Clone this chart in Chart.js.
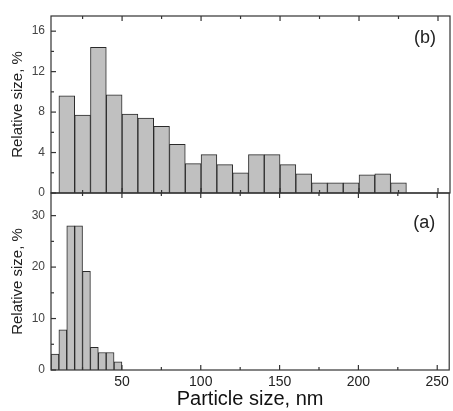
<!DOCTYPE html>
<html>
<head>
<meta charset="utf-8">
<script src="https://cdn.jsdelivr.net/npm/chart.js@4.4.0/dist/chart.umd.min.js"></script>
<style>
  html, body { margin: 0; padding: 0; background: #fff; }
  #wrap { position: relative; width: 453px; height: 411px; }
  #wrap canvas { position: absolute; left: 0; top: 0; }
</style>
</head>
<body>
<div id="wrap">
  <canvas id="chartB" width="453" height="411"></canvas>
  <canvas id="chartA" width="453" height="411"></canvas>
</div>
<script>
// panel (b): 10 nm bins from 10 to 230 nm (bin centres)
const binsB = [15, 25, 35, 45, 55, 65, 75, 85, 95, 105, 115, 125, 135, 145, 155, 165, 175, 185, 195, 205, 215, 225];
const valuesB = [9.6, 7.7, 14.4, 9.7, 7.8, 7.4, 6.6, 4.8, 2.9, 3.8, 2.8, 2.0, 3.8, 3.8, 2.8, 1.9, 1.0, 1.0, 1.0, 1.8, 1.9, 1.0];

// panel (a): 5 nm bins from 5 to 50 nm (bin centres)
const binsA = [7.5, 12.5, 17.5, 22.5, 27.5, 32.5, 37.5, 42.5, 47.5];
const valuesA = [3.1, 7.8, 28.0, 28.0, 19.2, 4.4, 3.4, 3.4, 1.6];

const xTicks = [50, 100, 150, 200, 250];
const xMinor = [25, 75, 125, 175, 225];
const yTicksB = [0, 4, 8, 12, 16];
const yMinorB = [2, 6, 10, 14];
const yTicksA = [0, 10, 20, 30];
const yMinorA = [5, 15, 25];

const X_MIN = 5, X_MAX = 257.6;
const FONT = '"Liberation Sans", Arial, sans-serif';
const INK = '#333';

Chart.defaults.font.family = FONT;
Chart.defaults.color = INK;

// frame, inward ticks and the (a)/(b) tag
const framePlugin = {
  id: 'frame',
  afterDatasetsDraw(chart, args, opts) {
    const { ctx, chartArea: a } = chart;
    const x = chart.scales.x, y = chart.scales.y;
    ctx.save();
    ctx.strokeStyle = INK;
    ctx.lineWidth = 1.2;
    ctx.strokeRect(a.left, a.top, a.right - a.left, a.bottom - a.top);
    const seg = (x1, y1, x2, y2) => { ctx.beginPath(); ctx.moveTo(x1, y1); ctx.lineTo(x2, y2); ctx.stroke(); };
    const xt = (vals, len) => vals.forEach(v => {
      const p = x.getPixelForValue(v);
      seg(p, a.bottom, p, a.bottom - len);
      seg(p, a.top, p, a.top + len);
    });
    const yt = (vals, len) => vals.forEach(v => {
      const p = y.getPixelForValue(v);
      seg(a.left, p, a.left + len, p);
    });
    xt(xTicks, 5); xt(xMinor, 3);
    yt(opts.yMajor, 5); yt(opts.yMinor, 3);

    ctx.fillStyle = '#222';
    ctx.font = '18px ' + FONT;
    ctx.textBaseline = 'middle';
    ctx.textAlign = 'left';
    ctx.fillText(opts.tag, a.right - 36, a.top + opts.tagDy);
    ctx.restore();
  }
};

function makePanel(id, centers, values, yMax, yMajor, yMinor, tag, tagDy, top, showX) {
  return new Chart(document.getElementById(id), {
    type: 'bar',
    data: {
      datasets: [{
        data: centers.map((c, i) => ({ x: c, y: values[i] })),
        backgroundColor: '#c0c0c0',
        borderColor: '#2a2a2a',
        borderWidth: 1,
        barPercentage: 1,
        categoryPercentage: 1
      }]
    },
    options: {
      responsive: false,
      animation: false,
      layout: { padding: { left: 0, right: 3, top: top, bottom: showX ? 0 : 218 } },
      plugins: {
        legend: { display: false },
        tooltip: { enabled: false },
        frame: { yMajor, yMinor, tag, tagDy }
      },
      scales: {
        x: {
          type: 'linear',
          display: showX,
          offset: false,
          min: X_MIN,
          max: X_MAX,
          grid: { display: false, drawTicks: false },
          border: { display: false },
          afterBuildTicks: s => { s.ticks = xTicks.map(v => ({ value: v })); },
          afterFit: s => { s.height = showX ? 41 : 0; },
          ticks: { font: { size: 14 }, padding: 4, color: '#222', maxRotation: 0 },
          title: { display: true, text: 'Particle size, nm', font: { size: 20 }, color: '#111', padding: { top: 0, bottom: 0 } }
        },
        y: {
          min: 0,
          max: yMax,
          grid: { display: false, drawTicks: false },
          border: { display: false },
          afterBuildTicks: s => { s.ticks = yMajor.map(v => ({ value: v })); },
          afterFit: s => { s.width = 51; },
          ticks: { font: { size: 12 }, padding: 6, color: '#444' },
          title: { display: true, text: 'Relative size, %', font: { size: 15 }, color: '#222', padding: { top: 9, bottom: 0 } }
        }
      }
    },
    plugins: [framePlugin]
  });
}

makePanel('chartB', binsB, valuesB, 17.5, yTicksB, yMinorB, '(b)', 22, 16, false);
makePanel('chartA', binsA, valuesA, 34.4, yTicksA, yMinorA, '(a)', 30, 193, true);
</script>
</body>
</html>
